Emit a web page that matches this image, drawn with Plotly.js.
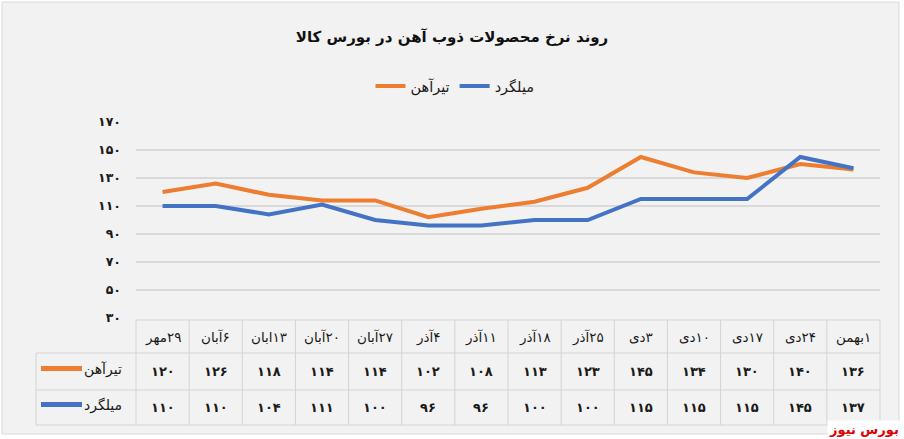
<!DOCTYPE html>
<html><head><meta charset="utf-8">
<script src="https://cdn.plot.ly/plotly-3.0.1.min.js"></script>
<style>html,body{margin:0;padding:0;background:#fff}#chart{width:904px;height:439px}</style>
</head><body><div id="chart"></div>
<script>
// ---- data ----
const categories = ['۲۹مهر','۶آبان','۱۳ابان','۲۰آبان','۲۷آبان','۴آذر','۱۱آذر','۱۸آذر','۲۵آذر','۳دی','۱۰دی','۱۷دی','۲۴دی','۱بهمن'];
const tirAhan = [120,126,118,114,114,102,108,113,123,145,134,130,140,136];
const milgerd = [110,110,104,111,100,96,96,100,100,115,115,115,145,137];
const yTicks = [30,50,70,90,110,130,150,170];
const seriesNames = ['تیرآهن','میلگرد'];
const seriesColors = ['#ED7D31','#4472C4'];
const titleText = 'روند نرخ محصولات ذوب آهن در بورس کالا';
const sourceText = 'بورس نیوز';

// ---- helpers ----
const FA = '۰۱۲۳۴۵۶۷۸۹';
const toFa = n => String(n).replace(/[0-9]/g, d => FA[+d]);
const RLM = '\u200F';
const W = 904, H = 439, L = 136, R = 880, T = 122, B = 318;
const px = x => (x - L) / (R - L);
const py = y => (B - y) / (B - T);
const FONT = 'DejaVu Sans';

const series = [tirAhan, milgerd];
const traces = series.map((vals, k) => ({
  type: 'scatter', mode: 'lines', name: seriesNames[k],
  x: categories, y: vals,
  line: {color: seriesColors[k], width: 4},
  hoverinfo: 'skip'
}));

const gridC = '#d4d4d4';
const shapes = [];
// chart background / border
shapes.push({type:'rect', xref:'paper', yref:'paper', x0:px(2), x1:px(899), y0:py(434), y1:py(2),
  fillcolor:'#f2f2f2', line:{color:'#d9d9d9', width:1}, layer:'below'});
// table lines
const hl = (y, x0, x1) => shapes.push({type:'line', xref:'paper', yref:'paper', x0:px(x0), x1:px(x1), y0:py(y), y1:py(y), line:{color:gridC, width:1}});
const vl = (x, y0, y1) => shapes.push({type:'line', xref:'paper', yref:'paper', x0:px(x), x1:px(x), y0:py(y0), y1:py(y1), line:{color:gridC, width:1}});
hl(320, L, R); hl(353, 36, R); hl(390, 36, R); hl(425, 36, R);
vl(36, 353, 425);
for (let k = 0; k <= categories.length; k++) {
  const xp = k / categories.length;
  shapes.push({type:'line', xref:'paper', yref:'paper', x0:xp, x1:xp, y0:py(320), y1:py(425), line:{color:gridC, width:1}});
}
const rowY = [371.5, 407.5];
// row header line samples
rowY.forEach((y, k) => shapes.push({type:'line', xref:'paper', yref:'paper', x0:px(41), x1:px(82), y0:py(y-3), y1:py(y-3),
  line:{color:seriesColors[k], width:5}}));

const annotations = [];
categories.forEach((c, i) => {
  annotations.push({xref:'x', yref:'paper', x:c, y:py(337), text:RLM + c, showarrow:false,
    xanchor:'center', yanchor:'middle', font:{family:FONT, size:13.5, color:'#1a1a1a'}});
  series.forEach((vals, k) => annotations.push({xref:'x', yref:'paper', x:c, y:py(rowY[k]), text:toFa(vals[i]),
    showarrow:false, xanchor:'center', yanchor:'middle', font:{family:FONT, size:13, color:'#1a1a1a', weight:'bold'}}));
});
seriesNames.forEach((n, k) => annotations.push({xref:'paper', yref:'paper', x:px(124), y:py(rowY[k]-2), text:n,
  showarrow:false, xanchor:'right', yanchor:'middle', font:{family:FONT, size:14, color:'#1a1a1a'}}));
annotations.push({xref:'paper', yref:'paper', x:px(901), y:py(429), text:'<b>' + sourceText + '</b>', showarrow:false,
  xanchor:'right', yanchor:'middle', bgcolor:'#ffffff', font:{family:FONT, size:13, color:'#e00000'}});

const layout = {
  width: W, height: H,
  margin: {l: L, r: W - R, t: T, b: H - B, pad: 0},
  paper_bgcolor: '#ffffff', plot_bgcolor: 'rgba(0,0,0,0)',
  font: {family: FONT, color: '#1a1a1a'},
  title: {text: titleText, x: 0.5, xanchor: 'center', y: 1 - 37 / H, yanchor: 'middle',
    font: {family: FONT, size: 15, color: '#111111', weight: 'bold'}},
  showlegend: true,
  legend: {orientation: 'h', x: px(455), xanchor: 'center', y: py(86), yanchor: 'middle',
    font: {family: FONT, size: 14.5, color: '#1a1a1a'}, bgcolor: 'rgba(0,0,0,0)', itemwidth: 30},
  xaxis: {type: 'category', categoryarray: categories, range: [-0.5, categories.length - 0.5],
    showticklabels: false, showgrid: false, zeroline: false, showline: false, ticks: '', fixedrange: true},
  yaxis: {range: [30, 170], tickvals: yTicks, ticktext: yTicks.map(toFa), showgrid: true,
    gridcolor: '#d9d9d9', gridwidth: 1.3, zeroline: false, showline: false, ticks: '',
    ticklabelstandoff: 14, tickfont: {family: FONT, size: 12.5, color: '#1a1a1a', weight: 'bold'}, fixedrange: true},
  shapes, annotations
};
Plotly.newPlot('chart', traces, layout, {displayModeBar: false, staticPlot: true});
</script></body></html>
